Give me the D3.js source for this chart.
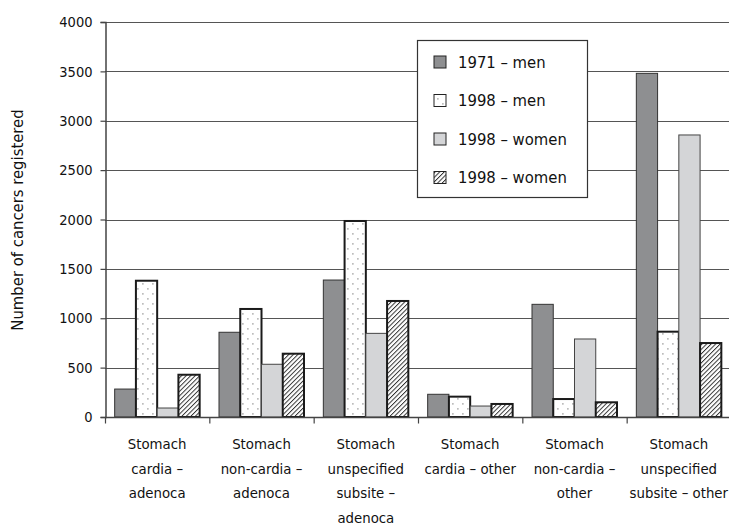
<!DOCTYPE html>
<html>
<head>
<meta charset="utf-8">
<script src="https://cdn.jsdelivr.net/npm/d3@7"></script>
<style>
  html, body { margin: 0; padding: 0; background: #fff; }
  svg { display: block; }
  text { font-family: "DejaVu Sans Condensed", "DejaVu Sans", sans-serif; font-stretch: condensed; fill: #111; }
</style>
</head>
<body>
<svg id="chart" width="729" height="525"></svg>
<script>
const categories = [
  ["Stomach", "cardia –", "adenoca"],
  ["Stomach", "non-cardia –", "adenoca"],
  ["Stomach", "unspecified", "subsite –", "adenoca"],
  ["Stomach", "cardia – other"],
  ["Stomach", "non-cardia –", "other"],
  ["Stomach", "unspecified", "subsite – other"]
];
const seriesNames = ["1971 – men", "1998 – men", "1998 – women", "1998 – women"];
const men1971   = [283, 858, 1387, 230, 1141, 3480];
const men1998   = [1380, 1094, 1985, 206, 182, 864];
const women1998a = [91, 534, 847, 111, 790, 2856];
const women1998b = [428, 641, 1175, 132, 149, 749];
const yTicks = [0, 500, 1000, 1500, 2000, 2500, 3000, 3500, 4000];
const yTitle = "Number of cancers registered";

const series = [men1971, men1998, women1998a, women1998b];

const svg = d3.select("#chart");
const W = 729, H = 525;
const x0 = 105, x1 = 731;
const yBottom = 417, yTop = 22;

const defs = svg.append("defs");
const dots = defs.append("pattern").attr("id", "dots").attr("patternUnits", "userSpaceOnUse")
  .attr("width", 10).attr("height", 10);
dots.append("rect").attr("width", 10).attr("height", 10).attr("fill", "#fff");
[[2,3],[7,8]].forEach(([cx, cy]) => {
  dots.append("rect").attr("x", cx).attr("y", cy).attr("width", 1.7).attr("height", 1.7).attr("fill", "#bdbdbd");
});
const hatch = defs.append("pattern").attr("id", "hatch").attr("patternUnits", "userSpaceOnUse")
  .attr("width", 3.2).attr("height", 3.2).attr("patternTransform", "rotate(45)");
hatch.append("rect").attr("width", 3.2).attr("height", 3.2).attr("fill", "#fff");
hatch.append("line").attr("x1", 0.5).attr("y1", 0).attr("x2", 0.5).attr("y2", 3.2)
  .attr("stroke", "#222").attr("stroke-width", 0.9);

const fills = ["#8e8f91", "url(#dots)", "#d4d5d7", "url(#hatch)"];
const strokes = ["#333", "#1a1a1a", "#444", "#1a1a1a"];
const strokeW = [1, 2, 1, 2];

const y = d3.scaleLinear().domain([0, 4000]).range([yBottom, yTop]);
const xCat = d3.scaleBand().domain(d3.range(categories.length)).range([x0, x1]).paddingInner(0).paddingOuter(0);
const xSub = d3.scaleBand().domain(d3.range(series.length)).range([0, xCat.bandwidth()]).paddingInner(0).paddingOuter(0.455);

// gridlines
svg.append("g").selectAll("line").data(yTicks.filter(d => d > 0)).join("line")
  .attr("x1", x0).attr("x2", W).attr("y1", d => Math.round(y(d)) + 0.5).attr("y2", d => Math.round(y(d)) + 0.5)
  .attr("stroke", "#555").attr("stroke-width", 1.2);

// bars
series.forEach((vals, si) => {
  svg.append("g").selectAll("rect").data(vals).join("rect")
    .attr("x", (d, i) => xCat(i) + xSub(si))
    .attr("y", d => y(d))
    .attr("width", xSub.bandwidth())
    .attr("height", d => yBottom - y(d))
    .attr("fill", fills[si])
    .attr("stroke", strokes[si])
    .attr("stroke-width", strokeW[si]);
});

// y axis
const yAxis = d3.axisLeft(y).tickValues(yTicks).tickSize(5).tickPadding(8).tickFormat(d3.format("d"));
const gy = svg.append("g").attr("transform", `translate(${x0 + 0.5},0)`).call(yAxis);
gy.select(".domain").attr("stroke", "#444").attr("stroke-width", 1.5);
gy.selectAll(".tick line").attr("stroke", "#444").attr("stroke-width", 1.2);
gy.selectAll(".tick text").attr("font-size", 14.5).attr("fill", "#111")
  .attr("font-family", '"DejaVu Sans Condensed", "DejaVu Sans", sans-serif');

// x axis
const xLin = d3.scaleLinear().domain([0, categories.length]).range([x0, x1]);
const xAxis = d3.axisBottom(xLin).tickValues(d3.range(0, categories.length + 1)).tickSize(6).tickFormat("");
const gx = svg.append("g").attr("transform", `translate(0,${yBottom + 0.5})`).call(xAxis);
gx.select(".domain").attr("stroke", "#444").attr("stroke-width", 1.5).attr("d", `M${x0},0H${W}`);
gx.selectAll(".tick line").attr("stroke", "#444").attr("stroke-width", 1.2);

// category labels
categories.forEach((lines, i) => {
  const cx = xCat(i) + xCat.bandwidth() / 2;
  const t = svg.append("text").attr("text-anchor", "middle").attr("font-size", 14.8)
    .attr("x", cx).attr("y", 449);
  lines.forEach((ln, k) => t.append("tspan").attr("x", cx).attr("y", 449 + k * 24.5).text(ln));
});

// y title
svg.append("text").attr("text-anchor", "middle").attr("font-size", 16.5)
  .attr("transform", `translate(23,220) rotate(-90)`).text(yTitle);

// legend
const lg = svg.append("g");
lg.append("rect").attr("x", 417.5).attr("y", 40.5).attr("width", 170).attr("height", 157)
  .attr("fill", "#fff").attr("stroke", "#333").attr("stroke-width", 1.2);
seriesNames.forEach((name, i) => {
  const cy = 62 + i * 38.5;
  lg.append("rect").attr("x", 434).attr("y", cy - 6).attr("width", 12).attr("height", 12)
    .attr("fill", fills[i]).attr("stroke", "#222").attr("stroke-width", 1);
  lg.append("text").attr("x", 458).attr("y", cy + 5.5).attr("font-size", 16.5).text(name);
});
</script>
</body>
</html>
